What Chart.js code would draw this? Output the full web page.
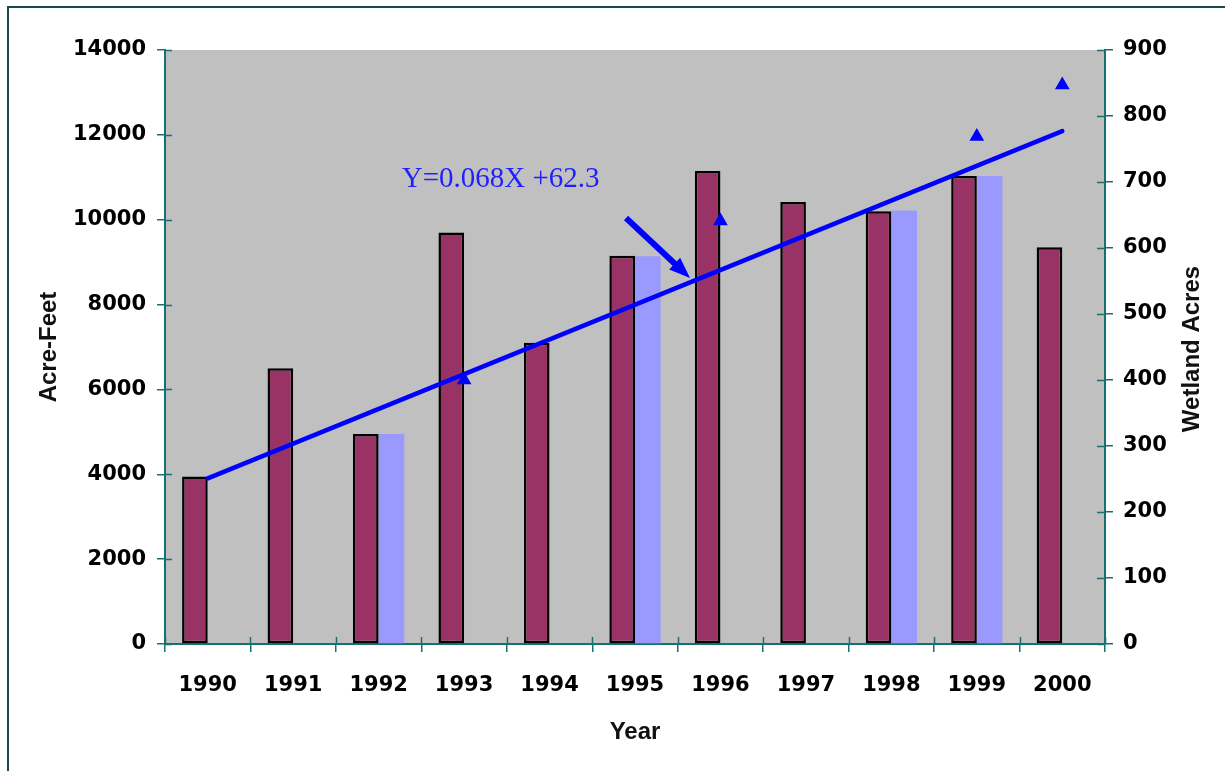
<!DOCTYPE html>
<html>
<head>
<meta charset="utf-8">
<script src="https://cdn.jsdelivr.net/npm/chart.js@4.4.1/dist/chart.umd.min.js"></script>
<style>
  html, body { margin: 0; padding: 0; background: #ffffff; }
  #wrap { width: 1225px; height: 771px; position: relative; }
</style>
</head>
<body>
<div id="wrap"><canvas id="c" width="1225" height="771"></canvas></div>
<script>
// ---------- data ----------
const years = ['1990', '1991', '1992', '1993', '1994', '1995', '1996', '1997', '1998', '1999', '2000'];
const acreFeet = [3950, 6500, 4950, 9700, 7100, 9150, 11150, 10420, 10200, 11030, 9350];
const acreFeetLight = [null, null, 4950, null, null, 9140, null, null, 10220, 11030, null];
const wetlandAcres = [null, null, null, 400, null, null, 641, null, null, 769, 847];
const trendLine = [251, null, null, null, null, null, null, null, null, null, 777];
const leftAxisMax = 14000;
const leftAxisStep = 2000;
const rightAxisMax = 900;
const rightAxisStep = 100;
const leftTitle = 'Acre-Feet';
const rightTitle = 'Wetland Acres';
const bottomTitle = 'Year';
const equationText = 'Y=0.068X +62.3';
// annotation anchors in data space (x = category index, y = left-axis value)
const equationAnchor = { x: 2.27, y: 10780 };
const arrowFrom = { x: 4.895, y: 10040 };
const arrowTo = { x: 5.644, y: 8626 };

const TEAL = '#167272';

const decorPlugin = {
  id: 'decor',
  beforeDraw(chart) {
    const { ctx, chartArea: a } = chart;
    ctx.save();
    ctx.fillStyle = '#ffffff';
    ctx.fillRect(0, 0, chart.width, chart.height);
    // outer frame (extends past the picture on the right and bottom)
    ctx.strokeStyle = '#1d4848';
    ctx.lineWidth = 2;
    ctx.beginPath();
    ctx.moveTo(8, chart.height + 5);
    ctx.lineTo(8, 7);
    ctx.lineTo(chart.width + 5, 7);
    ctx.stroke();
    // plot background
    ctx.fillStyle = '#c0c0c0';
    ctx.fillRect(a.left, a.top, a.right - a.left, a.bottom - a.top);
    ctx.restore();
  },
  afterDraw(chart) {
    const { ctx, chartArea: a, scales } = chart;
    ctx.save();
    // inner halves of tick marks
    ctx.strokeStyle = TEAL;
    ctx.lineWidth = 1.5;
    ctx.beginPath();
    scales.y.ticks.forEach(t => {
      const py = Math.round(scales.y.getPixelForValue(t.value)) + 0.5;
      ctx.moveTo(a.left, py); ctx.lineTo(a.left + 7, py);
    });
    scales.y1.ticks.forEach(t => {
      const py = Math.round(scales.y1.getPixelForValue(t.value)) + 0.5;
      ctx.moveTo(a.right - 8, py); ctx.lineTo(a.right, py);
    });
    for (let i = 0; i <= years.length; i++) {
      const px = Math.round(scales.x.getPixelForValue(i - 0.5)) + 0.5;
      ctx.moveTo(px, a.bottom); ctx.lineTo(px, a.bottom - 7);
    }
    ctx.stroke();

    // axis titles
    ctx.fillStyle = '#111111';
    ctx.font = 'bold 24px "Liberation Sans", Arial, sans-serif';
    ctx.textAlign = 'center';
    ctx.textBaseline = 'alphabetic';
    ctx.save();
    ctx.translate(56, (a.top + a.bottom) / 2);
    ctx.rotate(-Math.PI / 2);
    ctx.fillText(leftTitle, 0, 0);
    ctx.restore();
    ctx.save();
    ctx.translate(1199, (a.top + a.bottom) / 2 + 2);
    ctx.rotate(-Math.PI / 2);
    ctx.fillText(rightTitle, 0, 0);
    ctx.restore();
    ctx.fillText(bottomTitle, (a.left + a.right) / 2, 739);

    // equation label
    const ex = scales.x.getPixelForValue(equationAnchor.x);
    const ey = scales.y.getPixelForValue(equationAnchor.y);
    ctx.fillStyle = '#1f1fff';
    ctx.font = '29px "Liberation Serif", "Times New Roman", serif';
    ctx.textAlign = 'left';
    ctx.fillText(equationText, ex, ey);

    // arrow
    const x0 = scales.x.getPixelForValue(arrowFrom.x), y0 = scales.y.getPixelForValue(arrowFrom.y);
    const x1 = scales.x.getPixelForValue(arrowTo.x), y1 = scales.y.getPixelForValue(arrowTo.y);
    const ang = Math.atan2(y1 - y0, x1 - x0);
    const headLen = 21, headHalf = 8;
    const bx = x1 - Math.cos(ang) * headLen, by = y1 - Math.sin(ang) * headLen;
    ctx.strokeStyle = '#0000ff';
    ctx.fillStyle = '#0000ff';
    ctx.lineWidth = 6;
    ctx.lineCap = 'butt';
    ctx.beginPath();
    ctx.moveTo(x0, y0); ctx.lineTo(bx + Math.cos(ang) * 2, by + Math.sin(ang) * 2);
    ctx.stroke();
    ctx.beginPath();
    ctx.moveTo(x1, y1);
    ctx.lineTo(bx + Math.sin(ang) * headHalf, by - Math.cos(ang) * headHalf);
    ctx.lineTo(bx - Math.sin(ang) * headHalf, by + Math.cos(ang) * headHalf);
    ctx.closePath();
    ctx.fill();
    ctx.restore();
  }
};

const tickFont = { family: '"DejaVu Sans", sans-serif', weight: 'bold', size: 21 };
const plainNumber = v => String(v);

new Chart(document.getElementById('c'), {
  type: 'bar',
  data: {
    labels: years,
    datasets: [
      {
        type: 'line', label: 'Trend', data: trendLine, yAxisID: 'y1', order: 0,
        borderColor: '#0000ff', borderWidth: 4.5, pointRadius: 0, spanGaps: true, tension: 0,
        borderCapStyle: 'round'
      },
      {
        type: 'line', label: 'Wetland Acres', data: wetlandAcres, yAxisID: 'y1', order: 1,
        showLine: false, pointStyle: 'triangle', pointRadius: 8.5, pointBorderWidth: 0,
        pointBackgroundColor: '#0000ff', pointBorderColor: '#0000ff'
      },
      {
        label: 'Acre-Feet', data: acreFeet, yAxisID: 'y', order: 2,
        backgroundColor: '#993366', borderColor: '#000000', borderWidth: 2.5, borderSkipped: false,
        categoryPercentage: 0.6, barPercentage: 1.0
      },
      {
        label: 'Acre-Feet (2)', data: acreFeetLight, yAxisID: 'y', order: 2,
        backgroundColor: '#9999ff', borderWidth: 0,
        categoryPercentage: 0.6, barPercentage: 1.0
      }
    ]
  },
  options: {
    responsive: false,
    animation: false,
    devicePixelRatio: 1,
    layout: { padding: { top: 50, left: 0, right: 0, bottom: 0 } },
    plugins: { legend: { display: false }, tooltip: { enabled: false }, title: { display: false } },
    scales: {
      x: {
        offset: true,
        grid: { offset: true, drawOnChartArea: false, drawTicks: true, tickLength: 8, color: TEAL, lineWidth: 1.5 },
        border: { color: TEAL, width: 2 },
        ticks: { font: tickFont, color: '#000000', padding: 21, maxRotation: 0, autoSkip: false },
        afterFit: s => { s.height = 127; }
      },
      y: {
        position: 'left', min: 0, max: leftAxisMax,
        grid: { drawOnChartArea: false, drawTicks: true, tickLength: 8, color: TEAL, lineWidth: 1.5 },
        border: { color: TEAL, width: 2 },
        ticks: { stepSize: leftAxisStep, font: tickFont, color: '#000000', padding: 11, callback: plainNumber },
        afterFit: s => { s.width = 165; }
      },
      y1: {
        position: 'right', min: 0, max: rightAxisMax,
        grid: { drawOnChartArea: false, drawTicks: true, tickLength: 8, color: TEAL, lineWidth: 1.5 },
        border: { color: TEAL, width: 2 },
        ticks: { stepSize: rightAxisStep, font: tickFont, color: '#000000', padding: 10, callback: plainNumber },
        afterFit: s => { s.width = 120; }
      }
    }
  },
  plugins: [decorPlugin]
});
</script>
</body>
</html>
